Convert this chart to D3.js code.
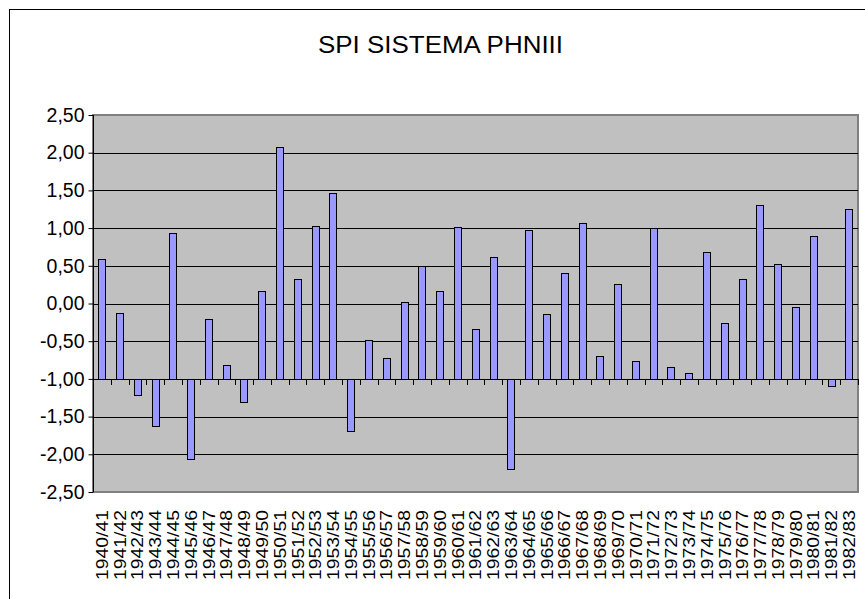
<!DOCTYPE html>
<html>
<head>
<meta charset="utf-8">
<title>SPI SISTEMA PHNIII</title>
<script src="https://d3js.org/d3.v7.min.js"></script>
<style>
  body { margin: 0; background: #fff; }
  text { font-family: "Liberation Sans", Arial, sans-serif; fill: #000; }
</style>
</head>
<body>
<script>

var title = "SPI SISTEMA PHNIII";

var years = ["1940/41","1941/42","1942/43","1943/44","1944/45","1945/46","1946/47","1947/48",
  "1948/49","1949/50","1950/51","1951/52","1952/53","1953/54","1954/55","1955/56","1956/57",
  "1957/58","1958/59","1959/60","1960/61","1961/62","1962/63","1963/64","1964/65","1965/66",
  "1966/67","1967/68","1968/69","1969/70","1970/71","1971/72","1972/73","1973/74","1974/75",
  "1975/76","1976/77","1977/78","1978/79","1979/80","1980/81","1981/82","1982/83"];

var spi = [0.59,-0.12,-1.21,-1.63,0.93,-2.06,-0.20,-0.82,-1.31,0.16,2.08,0.32,1.03,1.47,
  -1.69,-0.49,-0.72,0.02,0.50,0.16,1.01,-0.34,0.62,-2.19,0.97,-0.14,0.40,1.07,-0.69,
  0.26,-0.76,1.00,-0.84,-0.92,0.68,-0.26,0.32,1.31,0.52,-0.04,0.89,-1.09,1.25];

var yTicks = [2.5,2.0,1.5,1.0,0.5,0,-0.5,-1.0,-1.5,-2.0,-2.5];
var baseValue = -1.0;   // bars hang from the -1,00 line

var W = 865, H = 599;
var plot = {left: 93, right: 858, top: 115, bottom: 492};

var svg = d3.select("body").append("svg")
  .attr("width", W)
  .attr("height", H);

// chart frame, runs off the right and bottom of the picture
svg.append("rect")
  .attr("x", 9.5).attr("y", 9.5)
  .attr("width", 880).attr("height", 620)
  .attr("fill", "#fff")
  .attr("stroke", "#000")
  .attr("stroke-width", 1);

svg.append("text")
  .attr("x", 440.5).attr("y", 53)
  .attr("text-anchor", "middle")
  .attr("font-size", 24.5)
  .attr("textLength", 245)
  .attr("lengthAdjust", "spacingAndGlyphs")
  .text(title);

var x = d3.scaleBand()
  .domain(years)
  .range([plot.left, plot.right])
  .paddingInner(0.58)
  .paddingOuter(0.29);

var y = d3.scaleLinear()
  .domain([-2.5, 2.5])
  .range([plot.bottom, plot.top]);

var fmt = function(v){ return d3.format(".2f")(v).replace(".", ",").replace("−", "-"); };

// plot area
svg.append("rect")
  .attr("x", plot.left).attr("y", plot.top)
  .attr("width", plot.right - plot.left)
  .attr("height", plot.bottom - plot.top)
  .attr("fill", "#c0c0c0")
  .attr("stroke", "#808080")
  .attr("stroke-width", 2);

// gridlines
svg.append("g")
  .selectAll("line")
  .data(yTicks.filter(function(d){ return d != 2.5 && d != -2.5; }))
  .enter().append("line")
  .attr("x1", plot.left).attr("x2", plot.right)
  .attr("y1", function(d){ return Math.round(y(d)) + 0.5; })
  .attr("y2", function(d){ return Math.round(y(d)) + 0.5; })
  .attr("stroke", "#000")
  .attr("stroke-width", 1);

// y axis
var yAxis = d3.axisLeft(y)
  .tickValues(yTicks)
  .tickSize(5)
  .tickPadding(4)
  .tickFormat(fmt);

var gy = svg.append("g")
  .attr("transform", "translate(" + (plot.left + 0.5) + ",0)")
  .call(yAxis);
gy.select(".domain").attr("stroke", "#000").attr("d", "M0," + plot.top + "V" + plot.bottom);
gy.selectAll(".tick line").attr("stroke", "#000");
gy.selectAll(".tick text")
  .attr("font-size", 19.5)
  .attr("font-family", "Liberation Sans, Arial, sans-serif")
  .attr("fill", "#000");

// bars
svg.append("g")
  .selectAll("rect")
  .data(spi)
  .enter().append("rect")
  .attr("x", function(d, i){ return Math.round(x(years[i])) + 0.5; })
  .attr("width", Math.round(x.bandwidth()))
  .attr("y", function(d){ return Math.round(y(Math.max(d, baseValue))) + 0.5; })
  .attr("height", function(d){ return Math.abs(Math.round(y(d)) - Math.round(y(baseValue))); })
  .attr("fill", "#9999ff")
  .attr("stroke", "#000")
  .attr("stroke-width", 1);

// category ticks along the -1,00 line
var step = x.step();
var bounds = d3.range(years.length + 1).map(function(i){ return plot.left + i * (plot.right - plot.left) / years.length; });
svg.append("g")
  .selectAll("line")
  .data(bounds)
  .enter().append("line")
  .attr("x1", function(d){ return Math.round(d) + 0.5; })
  .attr("x2", function(d){ return Math.round(d) + 0.5; })
  .attr("y1", Math.round(y(baseValue)))
  .attr("y2", Math.round(y(baseValue)) + 6)
  .attr("stroke", "#000");

// category labels
svg.append("g")
  .selectAll("text")
  .data(years)
  .enter().append("text")
  .attr("transform", function(d){
    return "translate(" + (x(d) + x.bandwidth() / 2) + ",510) rotate(-90)";
  })
  .attr("text-anchor", "end")
  .attr("dy", "0.36em")
  .attr("font-size", 16.5)
  .attr("textLength", 70)
  .attr("lengthAdjust", "spacingAndGlyphs")
  .text(function(d){ return d; });

</script>
</body>
</html>
